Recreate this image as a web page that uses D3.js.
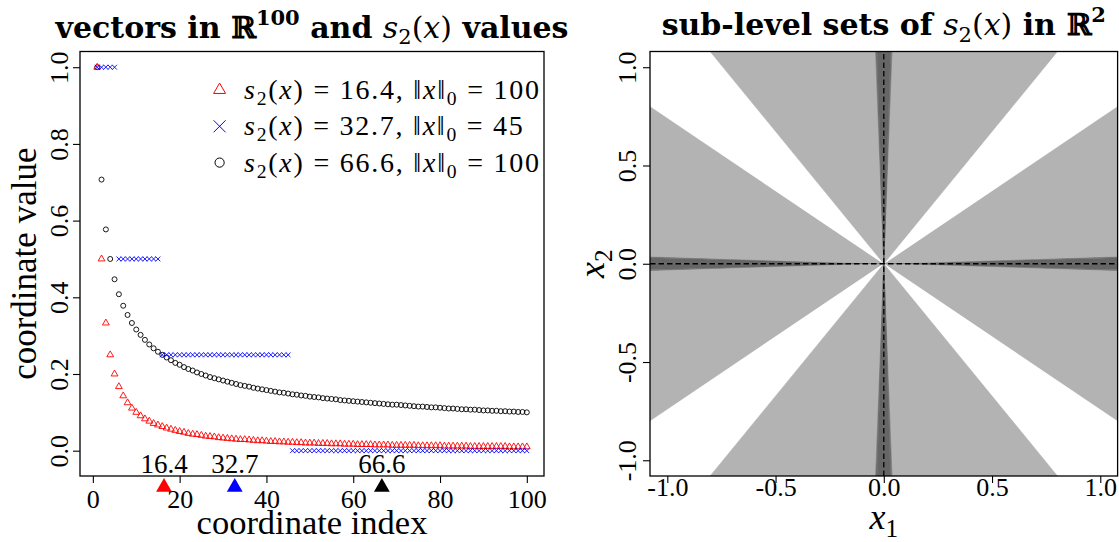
<!DOCTYPE html>
<html>
<head>
<meta charset="utf-8">
<script src="https://cdn.jsdelivr.net/npm/d3@7"></script>
<style>
body { margin: 0; background: #fff; }
svg text { font-family: "Liberation Serif", "Times New Roman", serif; }
svg text.ttl { font-family: "DejaVu Serif", serif; font-weight: bold; }
</style>
</head>
<body>
<svg width="1119" height="542"></svg>
<script>
// values, coordinate index 1..100
var indexes = d3.range(1, 101);

var redValues = [1.000, 0.500, 0.333, 0.250, 0.200, 0.167, 0.143, 0.125, 0.111, 0.100,
    0.091, 0.083, 0.077, 0.071, 0.067, 0.063, 0.059, 0.056, 0.053, 0.050,
    0.048, 0.045, 0.043, 0.042, 0.040, 0.038, 0.037, 0.036, 0.034, 0.033,
    0.032, 0.031, 0.030, 0.029, 0.029, 0.028, 0.027, 0.026, 0.026, 0.025,
    0.024, 0.024, 0.023, 0.023, 0.022, 0.022, 0.021, 0.021, 0.020, 0.020,
    0.020, 0.019, 0.019, 0.019, 0.018, 0.018, 0.018, 0.017, 0.017, 0.017,
    0.016, 0.016, 0.016, 0.016, 0.015, 0.015, 0.015, 0.015, 0.014, 0.014,
    0.014, 0.014, 0.014, 0.014, 0.013, 0.013, 0.013, 0.013, 0.013, 0.013,
    0.012, 0.012, 0.012, 0.012, 0.012, 0.012, 0.011, 0.011, 0.011, 0.011,
    0.011, 0.011, 0.011, 0.011, 0.011, 0.010, 0.010, 0.010, 0.010, 0.010];

var blueValues = [1, 1, 1, 1, 1, 0.5, 0.5, 0.5, 0.5, 0.5,
    0.5, 0.5, 0.5, 0.5, 0.5, 0.25, 0.25, 0.25, 0.25, 0.25,
    0.25, 0.25, 0.25, 0.25, 0.25, 0.25, 0.25, 0.25, 0.25, 0.25,
    0.25, 0.25, 0.25, 0.25, 0.25, 0.25, 0.25, 0.25, 0.25, 0.25,
    0.25, 0.25, 0.25, 0.25, 0.25, 0, 0, 0, 0, 0,
    0, 0, 0, 0, 0, 0, 0, 0, 0, 0,
    0, 0, 0, 0, 0, 0, 0, 0, 0, 0,
    0, 0, 0, 0, 0, 0, 0, 0, 0, 0,
    0, 0, 0, 0, 0, 0, 0, 0, 0, 0,
    0, 0, 0, 0, 0, 0, 0, 0, 0, 0];

var blackValues = [1.000, 0.707, 0.577, 0.500, 0.447, 0.408, 0.378, 0.354, 0.333, 0.316,
    0.302, 0.289, 0.277, 0.267, 0.258, 0.250, 0.243, 0.236, 0.229, 0.224,
    0.218, 0.213, 0.209, 0.204, 0.200, 0.196, 0.192, 0.189, 0.186, 0.183,
    0.180, 0.177, 0.174, 0.171, 0.169, 0.167, 0.164, 0.162, 0.160, 0.158,
    0.156, 0.154, 0.152, 0.151, 0.149, 0.147, 0.146, 0.144, 0.143, 0.141,
    0.140, 0.139, 0.137, 0.136, 0.135, 0.134, 0.132, 0.131, 0.130, 0.129,
    0.128, 0.127, 0.126, 0.125, 0.124, 0.123, 0.122, 0.121, 0.120, 0.120,
    0.119, 0.118, 0.117, 0.116, 0.115, 0.115, 0.114, 0.113, 0.113, 0.112,
    0.111, 0.110, 0.110, 0.109, 0.108, 0.108, 0.107, 0.107, 0.106, 0.105,
    0.105, 0.104, 0.104, 0.103, 0.103, 0.102, 0.102, 0.101, 0.101, 0.100];

var s2Values = [16.4, 32.7, 66.6];
var l0Values = [100, 45, 100];
var seriesColors = ['red', 'blue', 'black'];

var xTicks = [0, 20, 40, 60, 80, 100];
var yTicks = [0, 0.2, 0.4, 0.6, 0.8, 1.0];

// right panel: angle bands (degrees from the x1 axis, first quadrant, mirrored)
var bandEdges = [0, 1.65, 2.0, 36.6, 53.4, 88.0, 88.35, 90];
var bandFills = ['#666666', '#737373', '#b3b3b3', '#ffffff', '#b3b3b3', '#737373', '#666666'];
var gridTicks = [-1, -0.5, 0, 0.5, 1];

var serif = '"Liberation Serif", "Times New Roman", serif';
var svg = d3.select('svg');

var scaleX = d3.scaleLinear().domain([-2.96, 103.96]).range([80, 544]);
var scaleY = d3.scaleLinear().domain([-0.066, 1.041]).range([476, 51.5]);
var scaleX2 = d3.scaleLinear().domain([-1.08, 1.08]).range([650, 1117.6]);
var scaleY2 = d3.scaleLinear().domain([-1.08, 1.08]).range([476, 51.5]);

function mathText(sel, size, parts) {
    var shift = 0;
    parts.forEach(function (p) {
        var k = p[1] || '';
        var t = sel.append('tspan').text(p[0]);
        var target = 0;
        if (k.indexOf('i') >= 0) t.attr('font-style', 'italic');
        if (k.indexOf('n') >= 0) t.style('font-weight', 'normal');
        if (k.indexOf('sub') >= 0) target = size * 0.22;
        if (k.indexOf('sup') >= 0) target = -size * 0.42;
        if (target != 0) t.attr('font-size', size * 0.7);
        if (target != shift) {
            t.attr('dy', target - shift);
            shift = target;
        }
    });
}

function triPath(s) {
    var h = s * 0.866;
    return 'M0,' + (-2 * h / 3) + 'L' + (s / 2) + ',' + (h / 3) + 'L' + (-s / 2) + ',' + (h / 3) + 'Z';
}
function crossPath(r) {
    return 'M' + (-r) + ',' + (-r) + 'L' + r + ',' + r + 'M' + (-r) + ',' + r + 'L' + r + ',' + (-r);
}

/* ---------- left panel ---------- */
var left = svg.append('g');

left.selectAll('circle.pt')
    .data(blackValues)
    .enter()
    .append('circle')
    .attr('class', 'pt')
    .attr('cx', function (d, i) { return scaleX(indexes[i]); })
    .attr('cy', function (d) { return scaleY(d); })
    .attr('r', 2.5)
    .attr('fill', 'none')
    .attr('stroke', 'black')
    .attr('stroke-width', 0.9);

left.selectAll('path.tri')
    .data(redValues)
    .enter()
    .append('path')
    .attr('class', 'tri')
    .attr('d', triPath(6.8))
    .attr('transform', function (d, i) {
        return 'translate(' + scaleX(indexes[i]) + ',' + scaleY(d) + ')';
    })
    .attr('fill', 'none')
    .attr('stroke', 'red')
    .attr('stroke-width', 0.9);

left.selectAll('path.crs')
    .data(blueValues)
    .enter()
    .append('path')
    .attr('class', 'crs')
    .attr('d', crossPath(2.4))
    .attr('transform', function (d, i) {
        return 'translate(' + scaleX(indexes[i]) + ',' + scaleY(d) + ')';
    })
    .attr('fill', 'none')
    .attr('stroke', 'blue')
    .attr('stroke-width', 0.9);

// s2 markers on the index axis
left.selectAll('path.mark')
    .data(s2Values)
    .enter()
    .append('path')
    .attr('class', 'mark')
    .attr('d', function (d) {
        var x = scaleX(d);
        return 'M' + x + ',478L' + (x + 7.9) + ',491.7L' + (x - 7.9) + ',491.7Z';
    })
    .attr('fill', function (d, i) { return seriesColors[i]; });

left.selectAll('text.marklab')
    .data(s2Values)
    .enter()
    .append('text')
    .attr('class', 'marklab')
    .attr('x', function (d) { return scaleX(d); })
    .attr('y', 473)
    .attr('text-anchor', 'middle')
    .attr('font-size', 27)
    .text(function (d) { return d.toFixed(1); });

var xAxis = left.append('g')
    .attr('transform', 'translate(0,476)')
    .call(d3.axisBottom(scaleX).tickValues(xTicks).tickSize(7));
var yAxis = left.append('g')
    .attr('transform', 'translate(80,0)')
    .call(d3.axisLeft(scaleY).tickValues(yTicks).tickSize(7)
        .tickFormat(function (d) { return d.toFixed(1); }));

left.append('rect')
    .attr('x', 80).attr('y', 51.5)
    .attr('width', 464).attr('height', 424.5)
    .attr('fill', 'none').attr('stroke', 'black').attr('stroke-width', 1.3);

left.append('text')
    .attr('x', 312).attr('y', 534)
    .attr('text-anchor', 'middle')
    .attr('font-size', 34.5)
    .text('coordinate index');

left.append('text')
    .attr('transform', 'translate(36,263.7) rotate(-90)')
    .attr('text-anchor', 'middle')
    .attr('font-size', 35)
    .text('coordinate value');

var ttl = left.append('text')
    .attr('class', 'ttl')
    .attr('x', 312).attr('y', 37.5)
    .attr('text-anchor', 'middle')
    .attr('font-size', 30);
mathText(ttl, 30, [['vectors in '], ['\u211D'], ['100', 'sup'], [' and '],
    ['s', 'ni'], ['2', 'sub n'], ['(', 'n'], ['x', 'ni'], [')', 'n'], [' values']]);

// legend
var legendSymbols = [triPath(12), crossPath(6), null];
s2Values.forEach(function (v, i) {
    var y = 90 + i * 36.3;
    if (legendSymbols[i]) {
        left.append('path')
            .attr('d', legendSymbols[i])
            .attr('transform', 'translate(219.6,' + y + ')')
            .attr('fill', 'none')
            .attr('stroke', seriesColors[i])
            .attr('stroke-width', 1);
    } else {
        left.append('circle')
            .attr('cx', 219.6).attr('cy', y).attr('r', 4.6)
            .attr('fill', 'none').attr('stroke', seriesColors[i]).attr('stroke-width', 1);
    }
    var t = left.append('text')
        .attr('x', 244).attr('y', y + 9)
        .attr('font-size', 28);
    mathText(t, 28, [['s', 'i'], ['2', 'sub'], ['('], ['x', 'i'],
        [') = ' + v.toFixed(1) + ', \u2016'], ['x', 'i'], ['\u2016'], ['0', 'sub'],
        [' = ' + l0Values[i]]]);
    // TeX math is set wider than the fallback serif font
    var w = t.node().getComputedTextLength();
    t.attr('textLength', w * 1.16).attr('lengthAdjust', 'spacing');
});

/* ---------- right panel ---------- */
var right = svg.append('g');

right.append('clipPath').attr('id', 'box2')
    .append('rect')
    .attr('x', 650).attr('y', 51.5)
    .attr('width', 467.6).attr('height', 424.5);

var plot2 = right.append('g').attr('clip-path', 'url(#box2)');

var quadrants = [[1, 1], [-1, 1], [-1, -1], [1, -1]];
var wedges = [];
quadrants.forEach(function (q) {
    bandFills.forEach(function (f, j) {
        wedges.push({ sx: q[0], sy: q[1], a0: bandEdges[j], a1: bandEdges[j + 1], fill: f });
    });
});

plot2.selectAll('path.wedge')
    .data(wedges)
    .enter()
    .append('path')
    .attr('class', 'wedge')
    .attr('d', function (w) {
        var R = 3;
        var p0 = [0, 0];
        var p1 = [w.sx * R * Math.cos(w.a0 * Math.PI / 180), w.sy * R * Math.sin(w.a0 * Math.PI / 180)];
        var p2 = [w.sx * R * Math.cos(w.a1 * Math.PI / 180), w.sy * R * Math.sin(w.a1 * Math.PI / 180)];
        return 'M' + [p0, p1, p2].map(function (p) {
            return scaleX2(p[0]) + ',' + scaleY2(p[1]);
        }).join('L') + 'Z';
    })
    .attr('fill', function (w) { return w.fill; })
    .attr('stroke', function (w) { return w.fill; })
    .attr('stroke-width', 0.6);

plot2.append('line')
    .attr('x1', scaleX2(-1.08)).attr('x2', scaleX2(1.08))
    .attr('y1', scaleY2(0)).attr('y2', scaleY2(0))
    .attr('stroke', 'black').attr('stroke-width', 1.3)
    .attr('stroke-dasharray', '5.5,3');
plot2.append('line')
    .attr('x1', scaleX2(0)).attr('x2', scaleX2(0))
    .attr('y1', scaleY2(-1.08)).attr('y2', scaleY2(1.08))
    .attr('stroke', 'black').attr('stroke-width', 1.3)
    .attr('stroke-dasharray', '5.5,3');

var xAxis2 = right.append('g')
    .attr('transform', 'translate(0,476)')
    .call(d3.axisBottom(scaleX2).tickValues(gridTicks).tickSize(7)
        .tickFormat(function (d) { return d.toFixed(1); }));
var yAxis2 = right.append('g')
    .attr('transform', 'translate(650,0)')
    .call(d3.axisLeft(scaleY2).tickValues(gridTicks).tickSize(7)
        .tickFormat(function (d) { return d.toFixed(1); }));

right.append('rect')
    .attr('x', 650).attr('y', 51.5)
    .attr('width', 467.6).attr('height', 424.5)
    .attr('fill', 'none').attr('stroke', 'black').attr('stroke-width', 1.3);

var xl2 = right.append('text')
    .attr('x', 883.8).attr('y', 529)
    .attr('text-anchor', 'middle')
    .attr('font-size', 36);
mathText(xl2, 36, [['x', 'i'], ['1', 'sub']]);

var yl2 = right.append('text')
    .attr('transform', 'translate(604,263.7) rotate(-90)')
    .attr('text-anchor', 'middle')
    .attr('font-size', 36);
mathText(yl2, 36, [['x', 'i'], ['2', 'sub']]);

var ttl2 = right.append('text')
    .attr('class', 'ttl')
    .attr('x', 883.8).attr('y', 35)
    .attr('text-anchor', 'middle')
    .attr('font-size', 30);
mathText(ttl2, 30, [['sub-level sets of '], ['s', 'ni'], ['2', 'sub n'], ['(', 'n'],
    ['x', 'ni'], [')', 'n'], [' in '], ['\u211D'], ['2', 'sup']]);

/* ---------- shared axis styling ---------- */
[xAxis, yAxis, xAxis2, yAxis2].forEach(function (ax) {
    ax.attr('font-size', 26).attr('font-family', null);
    ax.select('.domain').remove();
    ax.selectAll('.tick line').attr('stroke-width', 1.1);
    ax.selectAll('.tick text').style('font-family', serif).attr('font-size', 26);
});
xAxis.selectAll('.tick text').attr('dy', null).attr('y', 32);
xAxis2.selectAll('.tick text').attr('dy', null).attr('y', 20);
[yAxis, yAxis2].forEach(function (ax, k) {
    ax.selectAll('.tick text')
        .attr('dy', null)
        .attr('x', 0)
        .attr('y', k == 0 ? -12 : -14)
        .attr('text-anchor', 'middle')
        .attr('transform', 'rotate(-90)');
});
</script>
</body>
</html>
